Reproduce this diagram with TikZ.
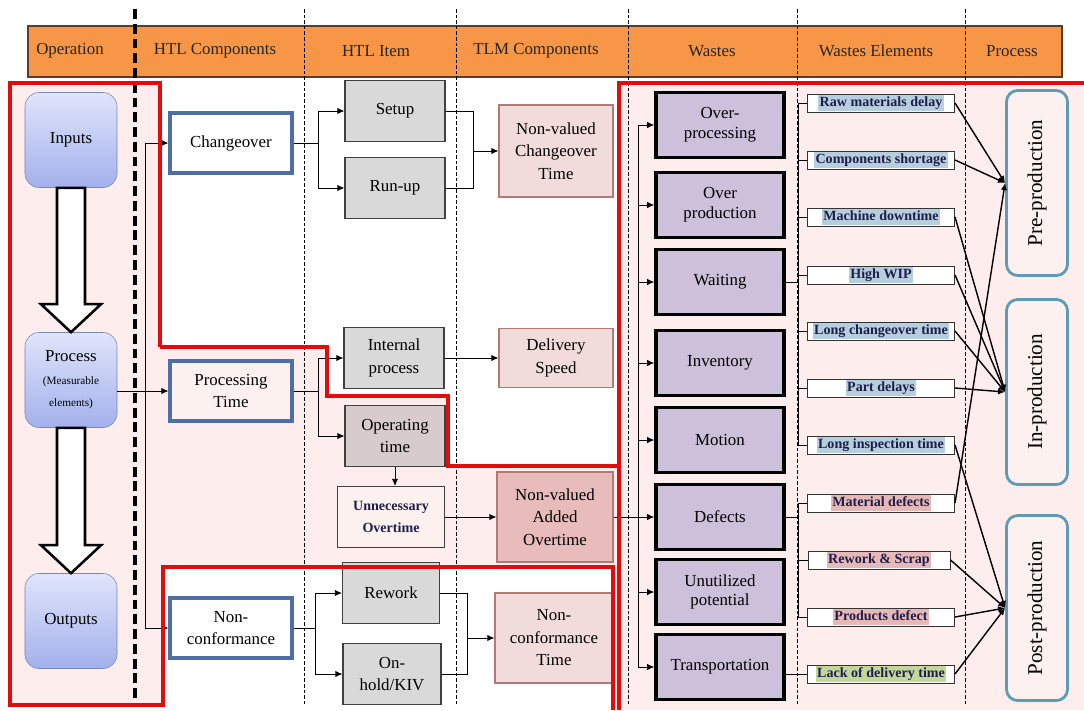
\documentclass[tikz,border=0pt]{standalone}
\usepackage{fontspec}
\setmainfont{Liberation Serif}
\usetikzlibrary{arrows.meta, positioning, calc}

\definecolor{hdrorange}{RGB}{247, 150, 70}
\definecolor{hdrline}{RGB}{90, 60, 40}
\definecolor{bgpink}{RGB}{253, 237, 236}
\definecolor{regred}{RGB}{225, 12, 12}
\definecolor{optop}{RGB}{224, 229, 250}
\definecolor{opbot}{RGB}{163, 176, 236}
\definecolor{opline}{RGB}{120, 135, 185}
\definecolor{htlblue}{RGB}{79, 110, 165}
\definecolor{itemgrey}{RGB}{217, 217, 217}
\definecolor{opgrey}{RGB}{216, 203, 203}
\definecolor{tlmpink}{RGB}{242, 220, 219}
\definecolor{tlmdark}{RGB}{232, 188, 187}
\definecolor{tlmline}{RGB}{180, 120, 118}
\definecolor{wastepurple}{RGB}{204, 192, 218}
\definecolor{hlblue}{RGB}{183, 206, 222}
\definecolor{hlpink}{RGB}{230, 185, 184}
\definecolor{hlgreen}{RGB}{196, 215, 155}
\definecolor{procteal}{RGB}{95, 155, 180}
\definecolor{procfill}{RGB}{253, 241, 240}
\definecolor{navytext}{RGB}{30, 30, 75}

\newcommand{\hl}[2]{{\setlength{\fboxsep}{1pt}\colorbox{#1}{\rule[-2.2pt]{0pt}{9.5pt}#2}}}

\begin{document}
\begin{tikzpicture}[x=0.025cm, y=-0.025cm,
  >={Latex[length=5pt, width=4.5pt]},
  every node/.style={font=\fontsize{12}{16}\selectfont, align=center},
  hdr/.style={font=\fontsize{12}{14}\selectfont, text=black!85},
  opbox/.style={draw=opline, rounded corners=10pt, top color=optop, bottom color=opbot,
    minimum width=2.3cm, minimum height=2.375cm},
  htlbox/.style={draw=htlblue, line width=2.2pt, fill=white, minimum width=3.05cm, minimum height=1.5cm},
  itembox/.style={draw=black!75, line width=0.8pt, fill=itemgrey, minimum width=2.5cm, minimum height=1.525cm},
  tlmbox/.style={draw=tlmline, line width=0.8pt, fill=tlmpink, minimum width=2.85cm, minimum height=2.3cm},
  wastebox/.style={draw=black, line width=2.5pt, fill=wastepurple, minimum width=3.2cm, minimum height=1.625cm,
    font=\fontsize{12}{14}\selectfont},
  elembox/.style={draw=black!80, line width=0.7pt, fill=white, minimum width=3.675cm, minimum height=0.45cm,
    inner sep=0.5pt, font=\fontsize{10}{12}\selectfont\bfseries, text=navytext},
  procbox/.style={draw=procteal, line width=2pt, rounded corners=8pt, fill=procfill,
    minimum width=1.525cm, minimum height=4.625cm},
  link/.style={->, line width=0.6pt},
  plain/.style={line width=0.6pt},
  toproc/.style={->, line width=1pt},
  region/.style={draw=regred, line width=2.5pt},
  blockarrow/.style={draw=black, line width=1.8pt, fill=white}]

  \useasboundingbox (0,0) rectangle (1084,710);

  % === backgrounds ===
  \fill[bgpink] (10,83) rectangle (1084,710);
  \fill[white] (160,83) -- (160,347) -- (327,347) -- (327,396) -- (448,396) -- (448,466) -- (619,466) -- (619,83) -- cycle;
  \fill[white] (163,567) rectangle (613,710);
  \fill[white] (10,705) rectangle (163,710);

  % === header ===
  \fill[hdrorange, draw=hdrline, line width=0.8pt] (28,26) rectangle (1062,77);
  \node[hdr] (hop) at (70,51) {Operation};
  \node[hdr] (hhc) at (215,51) {HTL Components};
  \node[hdr] (hhi) at (376,51) {HTL Item};
  \node[hdr] (htc) at (536,51) {TLM Components};
  \node[hdr] (hwa) at (712,51) {Wastes};
  \node[hdr] (hwe) at (876,51) {Wastes Elements};
  \node[hdr] (hpr) at (1012,51) {Process};

  % === column dividers ===
  \draw[line width=2.2pt, dash pattern=on 7pt off 3.5pt] (135,9) -- (135,705);
  \foreach \xd in {304, 456, 628, 797, 965}
    \draw[line width=0.5pt, dash pattern=on 2.5pt off 1.5pt] (\xd,9) -- (\xd,705);

  % === operation ===
  \node[opbox] (inputs) at (71,140) {Inputs};
  \node[opbox] (process) at (71,380) {Process\\{\fontsize{8}{10}\selectfont(Measurable}\\{\fontsize{8}{10}\selectfont elements)}};
  \node[opbox] (outputs) at (71,621) {Outputs};
  \draw[blockarrow] ($(inputs.south)+(-14,0)$) -- ($(process.north)+(-14,-28)$) -- ($(process.north)+(-30,-28)$)
    -- (process.north) -- ($(process.north)+(30,-28)$) -- ($(process.north)+(14,-28)$) -- ($(inputs.south)+(14,0)$) -- cycle;
  \draw[blockarrow] ($(process.south)+(-14,0)$) -- ($(outputs.north)+(-14,-28)$) -- ($(outputs.north)+(-30,-28)$)
    -- (outputs.north) -- ($(outputs.north)+(30,-28)$) -- ($(outputs.north)+(14,-28)$) -- ($(process.south)+(14,0)$) -- cycle;

  % === HTL components ===
  \node[htlbox] (changeover) at (231,143) {Changeover};
  \node[htlbox, fill=procfill] (processing) at (231,391) {Processing\\Time};
  \node[htlbox] (nonconf) at (231,628) {Non-\\conformance};

  % === HTL items ===
  \node[itembox] (setup) at (395,111) {Setup};
  \node[itembox] (runup) at (395,188) {Run-up};
  \node[itembox] (internal) at (394,358) {Internal\\process};
  \node[itembox, fill=opgrey] (operating) at (395,436) {Operating\\time};
  \node[itembox, fill=procfill, minimum width=2.675cm, font=\fontsize{10}{15}\selectfont\bfseries, text=navytext]
    (unnec) at (391,517) {Unnecessary\\Overtime};
  \node[itembox, minimum width=2.425cm] (rework) at (391,593) {Rework};
  \node[itembox, minimum width=2.45cm] (onhold) at (392,674) {On-\\hold/KIV};

  % === TLM components ===
  \node[tlmbox] (nvct) at (556,151) {Non-valued\\Changeover\\Time};
  \node[tlmbox, minimum height=1.475cm] (delivery) at (556,358) {Delivery\\Speed};
  \node[tlmbox, fill=tlmdark, minimum width=2.9cm, minimum height=2.25cm] (nvao) at (555,517) {Non-valued\\Added\\Overtime};
  \node[tlmbox, minimum width=2.95cm, minimum height=2.25cm] (nct) at (554,638) {Non-\\conformance\\Time};

  % === wastes ===
  \node[wastebox] (overproc) at (720,125) {Over-\\processing};
  \node[wastebox] (overprod) at (720,205) {Over\\production};
  \node[wastebox] (waiting) at (720,282) {Waiting};
  \node[wastebox] (inventory) at (720,363) {Inventory};
  \node[wastebox] (motion) at (720,440) {Motion};
  \node[wastebox] (defects) at (720,517) {Defects};
  \node[wastebox] (unutil) at (720,592) {Unutilized\\potential};
  \node[wastebox] (transport) at (720,667) {Transportation};

  % === wastes elements ===
  \node[elembox] (raw) at (881,103) {\hl{hlblue}{Raw materials delay}};
  \node[elembox] (comp) at (881,160) {\hl{hlblue}{Components shortage}};
  \node[elembox] (machine) at (881,217) {\hl{hlblue}{Machine downtime}};
  \node[elembox] (wip) at (881,275) {\hl{hlblue}{High WIP}};
  \node[elembox] (longco) at (881,331) {\hl{hlblue}{Long changeover time}};
  \node[elembox] (partd) at (881,388) {\hl{hlblue}{Part delays}};
  \node[elembox] (longinsp) at (881,445) {\hl{hlblue}{Long inspection time}};
  \node[elembox] (matdef) at (881,503) {\hl{hlpink}{Material defects}};
  \node[elembox, minimum width=3.55cm] (reworkscrap) at (879,560) {\hl{hlpink}{Rework \& Scrap}};
  \node[elembox] (proddef) at (881,617) {\hl{hlpink}{Products defect}};
  \node[elembox] (lackdel) at (881,674) {\hl{hlgreen}{Lack of delivery time}};

  % === process ===
  \node[procbox] (pre) at (1037,183) {};
  \node[rotate=90, font=\fontsize{15}{18}\selectfont] at (pre) {Pre-production};
  \node[procbox] (inprod) at (1037,392) {};
  \node[rotate=90, font=\fontsize{15}{18}\selectfont] at (inprod) {In-production};
  \node[procbox] (post) at (1037,608) {};
  \node[rotate=90, font=\fontsize{15}{18}\selectfont] at (post) {Post-production};

  % === connectors: operation to HTL ===
  \coordinate (opsplit) at (145,391);
  \draw[link] (process.east |- processing.west) -- (processing.west);
  \draw[link] (opsplit) |- (changeover.west);
  \draw[link] (opsplit) |- (nonconf.west);

  % === connectors: HTL to TLM ===
  \coordinate (cosplit) at (318,143);
  \draw[plain] (changeover.east) -- (cosplit);
  \draw[link] (cosplit) |- (setup.west);
  \draw[link] (cosplit) |- (runup.west);
  \coordinate (cojoin) at (473,151);
  \draw[plain] (setup.east) -| (cojoin);
  \draw[plain] (runup.east) -| (cojoin);
  \draw[link] (cojoin) -- (nvct.west);

  \coordinate (ptsplit) at (318,391);
  \draw[plain] (processing.east) -- (ptsplit);
  \draw[link] (ptsplit) |- (internal.west);
  \draw[link] (ptsplit) |- (operating.west);
  \draw[link] (internal.east) -- (delivery.west);
  \draw[link] (operating.south) -- (operating.south |- unnec.north);
  \draw[link] (unnec.east) -- (nvao.west);

  \coordinate (ncsplit) at (315,628);
  \draw[plain] (nonconf.east) -- (ncsplit);
  \draw[link] (ncsplit) |- (rework.west);
  \draw[link] (ncsplit) |- (onhold.west);
  \coordinate (ncjoin) at (467,638);
  \draw[plain] (rework.east) -| (ncjoin);
  \draw[plain] (onhold.east) -| (ncjoin);
  \draw[link] (ncjoin) -- (nct.west);

  % === connectors: TLM to wastes ===
  \coordinate (wsplit) at (638,517);
  \draw[link] (nvao.east) -- (defects.west);
  \foreach \w in {overproc, overprod, waiting, inventory, motion, unutil, transport}
    \draw[link] (wsplit) |- (\w.west);

  % === connectors: wastes to elements ===
  \coordinate (wbar) at (798,282);
  \draw[plain] (waiting.east) -- (wbar);
  \foreach \e in {raw, comp, machine, wip, longco, partd, longinsp}
    \draw[plain] (wbar) |- (\e.west);
  \coordinate (dbar) at (798,517);
  \draw[plain] (defects.east) -- (dbar);
  \foreach \e in {matdef, reworkscrap, proddef}
    \draw[plain] (dbar) |- (\e.west);
  \draw[plain] (transport.east |- lackdel.west) -- (lackdel.west);

  % === connectors: elements to process ===
  \foreach \e in {raw, comp, matdef}
    \draw[toproc] (\e.east) -- (pre.west);
  \foreach \e in {machine, wip, longco, partd}
    \draw[toproc] (\e.east) -- (inprod.west);
  \foreach \e in {longinsp, reworkscrap, proddef, lackdel}
    \draw[toproc] (\e.east) -- (post.west);

  % === red regions ===
  \draw[region] (160,347) -- (160,83) -- (10,83) -- (10,705) -- (163,705) -- (163,567) -- (613,567) -- (613,710);
  \draw[region] (160,347) -- (327,347) -- (327,396) -- (448,396) -- (448,466) -- (619,466);
  \draw[region] (619,710) -- (619,83) -- (1084,83);
\end{tikzpicture}
\end{document}
